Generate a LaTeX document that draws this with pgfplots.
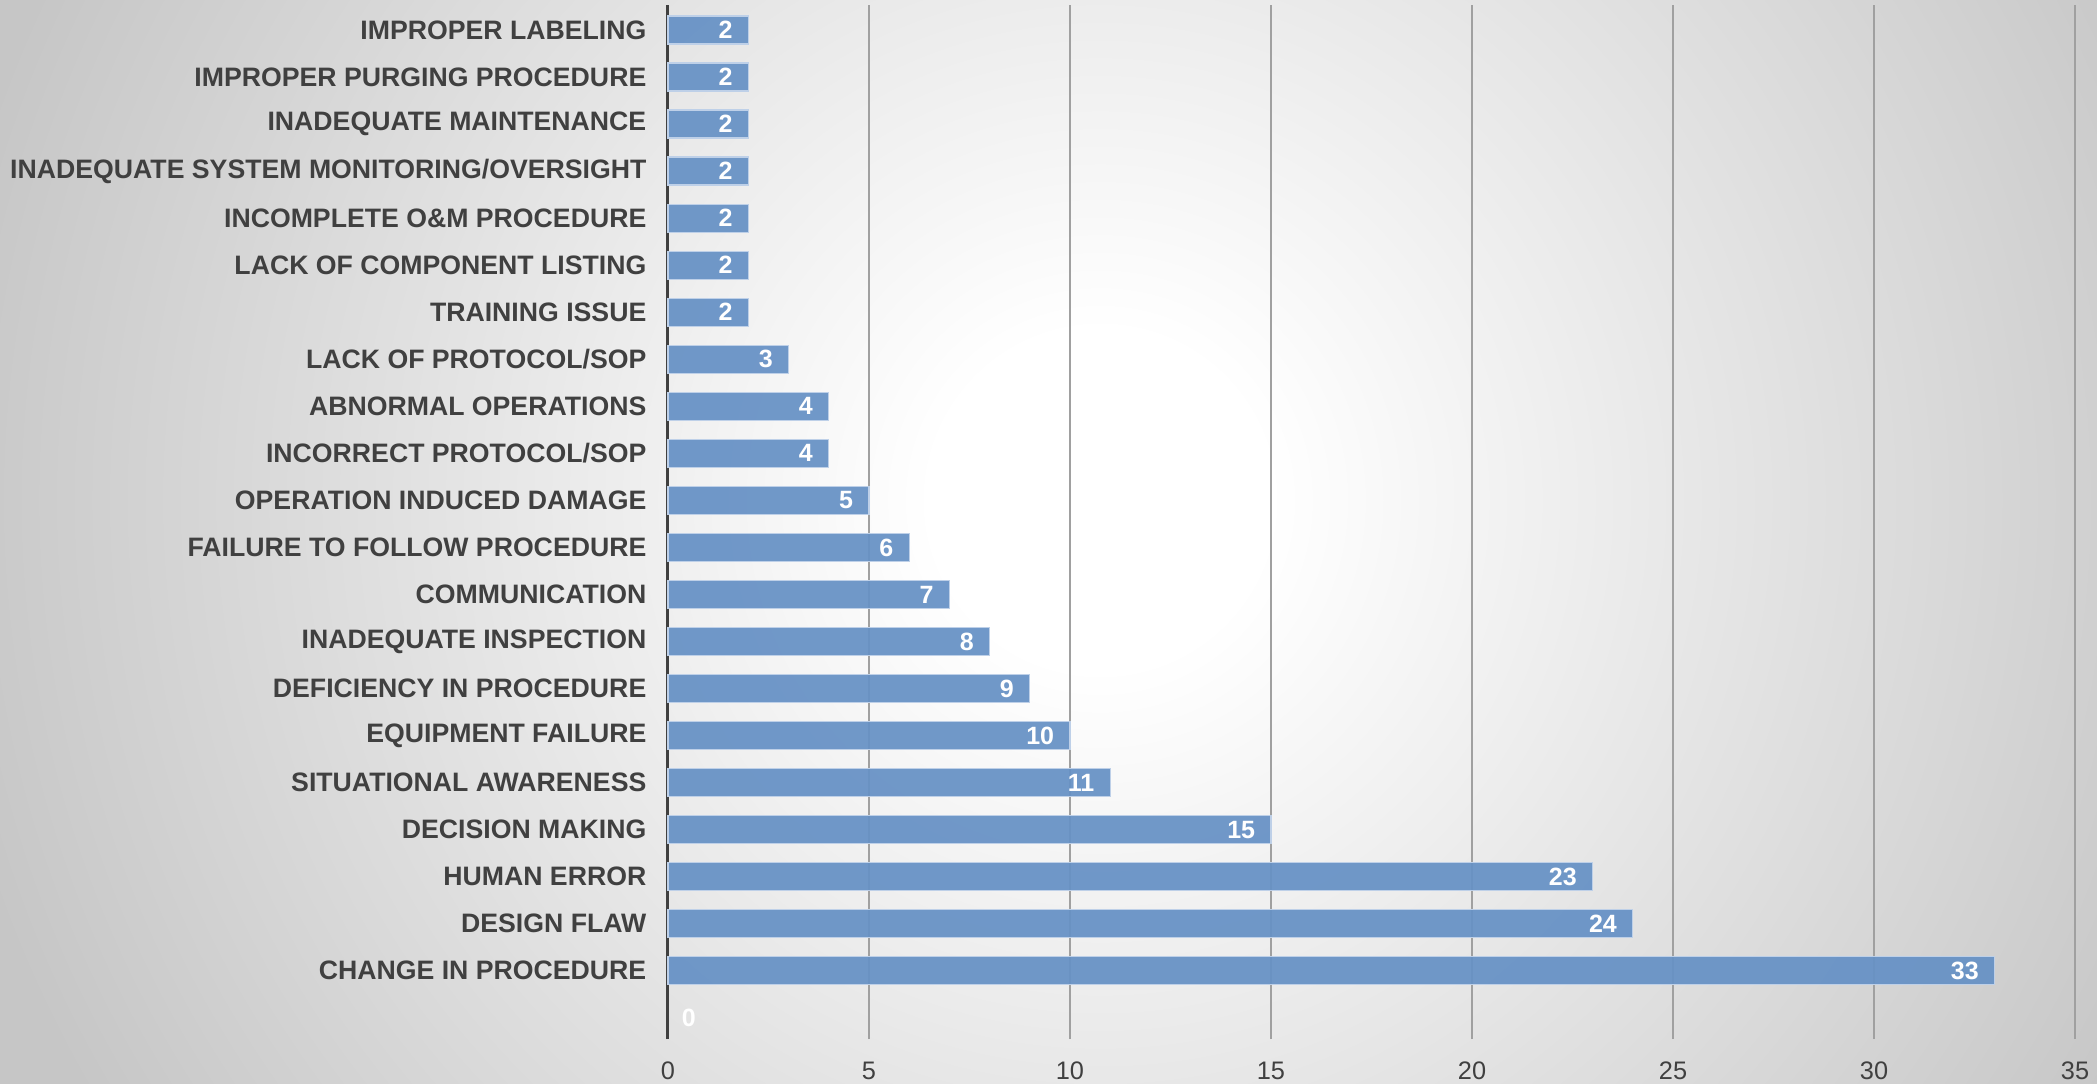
\documentclass[border=0pt]{standalone}
\usepackage{pgfplots}
\pgfplotsset{compat=1.18}
\usepackage{fontspec}
\setmainfont{Liberation Sans}
\definecolor{labgray}{RGB}{64,64,64}
\definecolor{bargblue}{RGB}{102,145,197}
\definecolor{baredge}{RGB}{190,208,232}
\definecolor{gridgray}{RGB}{160,160,160}
\definecolor{bggray}{RGB}{198,198,198}
\pgfdeclareradialshading{bgshade}{\pgfpoint{0bp}{0bp}}{color(0bp)=(white); color(3bp)=(white); color(21bp)=(bggray); color(50bp)=(bggray)}
\begin{document}
\begin{tikzpicture}
\begin{scope}
\clip (0,0) rectangle (629.1pt,324.9pt);
\shade[shading=bgshade] (330pt-420pt,174.9pt-420pt) rectangle (330pt+420pt,174.9pt+420pt);
\end{scope}
\begin{axis}[
  at={(200.4pt,13.2pt)}, anchor=south west,
  scale only axis, width=422.1pt, height=310.2pt,
  xmin=0, xmax=35, ymin=-0.45, ymax=21.53,
  xbar, bar shift=0pt, bar width=8.4pt,
  axis lines=left,
  axis line style={-},
  x axis line style={draw=none},
  y axis line style={draw=labgray, line width=0.9pt},
  xmajorgrids, grid style={gridgray, line width=0.45pt},
  major tick length=0pt,
  xtick={0,5,...,35},
  ytick={0,...,21},
  yticklabels={{},CHANGE IN PROCEDURE,DESIGN FLAW,HUMAN ERROR,DECISION MAKING,SITUATIONAL AWARENESS,EQUIPMENT FAILURE,DEFICIENCY IN PROCEDURE,INADEQUATE INSPECTION,COMMUNICATION,FAILURE TO FOLLOW PROCEDURE,OPERATION INDUCED DAMAGE,INCORRECT PROTOCOL/SOP,ABNORMAL OPERATIONS,LACK OF PROTOCOL/SOP,TRAINING ISSUE,LACK OF COMPONENT LISTING,INCOMPLETE O\&M PROCEDURE,INADEQUATE SYSTEM MONITORING/OVERSIGHT,INADEQUATE MAINTENANCE,IMPROPER PURGING PROCEDURE,IMPROPER LABELING},
  /pgf/number format/assume math mode=true,
  xticklabel style={anchor=north, inner sep=0pt, yshift=-6.6pt, font=\fontsize{7.6}{9}\selectfont, text=labgray},
  yticklabel style={anchor=east, inner sep=0pt, xshift=-6.3pt, font=\fontsize{8.0}{9}\selectfont\bfseries, text=labgray},
  clip=false,
]
\addplot[fill=bargblue, fill opacity=0.93, draw=baredge, line width=0.35pt,
  nodes near coords, nodes near coords style={anchor=east, inner sep=0pt, xshift=-4.6pt, text=white, text opacity=1, font=\fontsize{7.5}{9}\selectfont\bfseries}]
coordinates {
(33,1) (24,2) (23,3) (15,4) (11,5) (10,6) (9,7) (8,8) (7,9) (6,10) (5,11) (4,12) (4,13) (3,14) (2,15) (2,16) (2,17) (2,18) (2,19) (2,20) (2,21)
};
\addplot[fill=none, draw=none,
  nodes near coords, nodes near coords style={anchor=west, inner sep=0pt, xshift=4pt, text=white, font=\fontsize{7.5}{9}\selectfont\bfseries}]
coordinates {(0,0)};
\end{axis}
\pgfresetboundingbox
\path[use as bounding box] (0,0) rectangle (629.1pt,324.9pt);
\end{tikzpicture}
\end{document}
